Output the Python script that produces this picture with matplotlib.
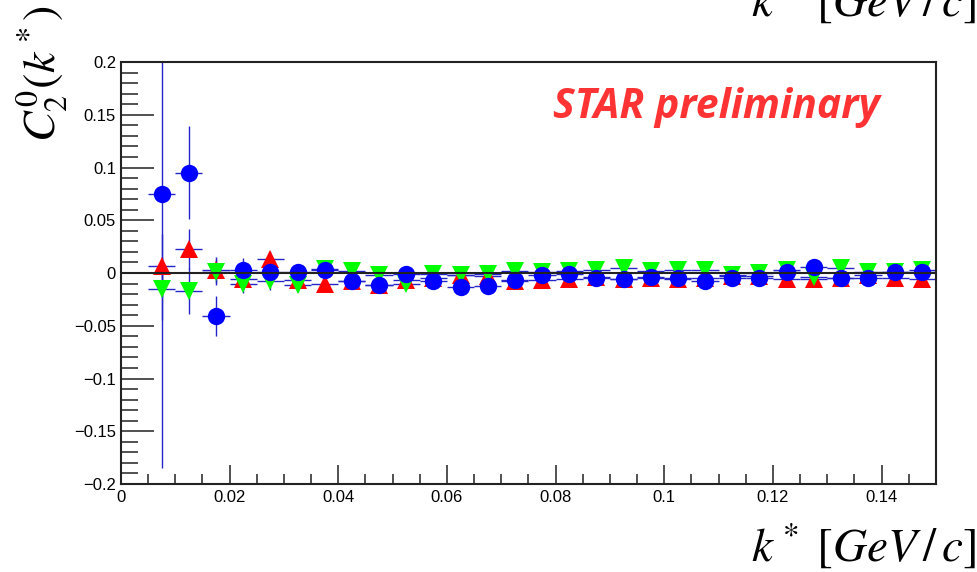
import numpy as np
import matplotlib
matplotlib.use("Agg")
import matplotlib.pyplot as plt
from matplotlib.ticker import MultipleLocator, FuncFormatter

plt.rcParams["font.family"] = ["Liberation Sans", "DejaVu Sans"]
plt.rcParams["mathtext.fontset"] = "stix"

# k* bin centres (bin width 0.005 GeV/c)
kstar = [0.0075, 0.0125, 0.0175, 0.0225, 0.0275, 0.0325, 0.0375, 0.0425, 0.0475, 0.0525,
         0.0575, 0.0625, 0.0675, 0.0725, 0.0775, 0.0825, 0.0875, 0.0925, 0.0975, 0.1025,
         0.1075, 0.1125, 0.1175, 0.1225, 0.1275, 0.1325, 0.1375, 0.1425, 0.1475]
kerr = 0.0025

c20_red = [0.007, 0.023, 0.003, -0.006, 0.013, -0.007, -0.010, -0.008, -0.011, -0.007,
           -0.005, -0.002, -0.003, -0.008, -0.007, -0.006, -0.004, -0.006, -0.005, -0.006,
           -0.005, -0.003, -0.003, -0.006, -0.006, -0.005, -0.002, -0.005, -0.006]
err_red = [0.030, 0.019, 0.012, 0.009, 0.008, 0.007, 0.006, 0.006, 0.005, 0.005,
           0.005, 0.005, 0.004, 0.004, 0.004, 0.004, 0.004, 0.004, 0.004, 0.004,
           0.004, 0.004, 0.004, 0.004, 0.004, 0.004, 0.004, 0.004, 0.004]

c20_green = [-0.015, -0.017, 0.001, -0.010, -0.008, -0.011, 0.004, 0.002, -0.002, -0.010,
             -0.001, -0.002, -0.001, 0.002, 0.001, 0.002, 0.003, 0.005, 0.002, 0.003,
             0.003, -0.002, 0.000, 0.003, -0.004, 0.005, 0.001, 0.001, 0.003]
err_green = [0.030, 0.022, 0.012, 0.009, 0.008, 0.007, 0.006, 0.006, 0.005, 0.005,
             0.005, 0.005, 0.004, 0.004, 0.004, 0.004, 0.004, 0.004, 0.004, 0.004,
             0.004, 0.004, 0.004, 0.004, 0.004, 0.004, 0.004, 0.004, 0.004]

c20_blue = [0.075, 0.095, -0.041, 0.003, 0.001, 0.001, 0.003, -0.008, -0.011, -0.001,
            -0.008, -0.013, -0.012, -0.007, -0.002, -0.001, -0.005, -0.006, -0.0035, -0.005,
            -0.008, -0.0045, -0.005, 0.001, 0.006, -0.005, -0.005, 0.001, 0.001]
err_blue = [0.260, 0.044, 0.019, 0.011, 0.009, 0.007, 0.006, 0.006, 0.005, 0.005,
            0.005, 0.005, 0.004, 0.004, 0.004, 0.004, 0.004, 0.004, 0.004, 0.004,
            0.004, 0.004, 0.004, 0.004, 0.004, 0.004, 0.004, 0.004, 0.004]

fig = plt.figure(figsize=(9.78, 5.72), dpi=100)
ax = fig.add_axes([0.1237, 0.1538, 0.957 - 0.1237, 0.8916 - 0.1538])

bar_col = "#2424c8"
for y, e in [(c20_red, err_red), (c20_green, err_green), (c20_blue, err_blue)]:
    ax.errorbar(kstar, y, xerr=kerr, yerr=e, fmt="none", ecolor=bar_col,
                elinewidth=1.0, capsize=0, zorder=2)

ax.plot(kstar, c20_red, "^", color="#ff0000", ms=13, mew=0, zorder=3)
ax.plot(kstar, c20_green, "v", color="#00ff00", ms=13, mew=0, zorder=4)
ax.plot(kstar, c20_blue, "o", color="#0000ff", ms=12.5, mew=0, zorder=5)

ax.axhline(0, color="#222222", lw=1.5, zorder=6)

ax.set_xlim(0, 0.15)
ax.set_ylim(-0.2, 0.2)

ax.xaxis.set_major_locator(MultipleLocator(0.02))
ax.xaxis.set_minor_locator(MultipleLocator(0.005))
ax.yaxis.set_major_locator(MultipleLocator(0.05))
ax.yaxis.set_minor_locator(MultipleLocator(0.01))


def root_fmt(v, pos):
    s = ("%.2f" % v).rstrip("0").rstrip(".")
    if s in ("-0", "0.0"):
        s = "0"
    return s.replace("-", "\u2212")


ax.xaxis.set_major_formatter(FuncFormatter(root_fmt))
ax.yaxis.set_major_formatter(FuncFormatter(root_fmt))

ax.tick_params(axis="y", which="major", direction="in", length=24, width=1.2,
               left=True, right=False, labelsize=12, pad=3.5, color="#333333")
ax.tick_params(axis="y", which="minor", direction="in", length=12, width=1.2,
               left=True, right=False, color="#333333")
ax.tick_params(axis="x", which="major", direction="in", length=14, width=1.2,
               bottom=True, top=False, labelsize=12, pad=4, color="#333333")
ax.tick_params(axis="x", which="minor", direction="in", length=7, width=1.2,
               bottom=True, top=False, color="#333333")
for sp in ax.spines.values():
    sp.set_linewidth(1.5)
    sp.set_color("#222222")

# axis titles
fig.text(0.044, 0.872, r"$C_2^0(k^*)$", rotation=90, fontsize=33,
         ha="center", va="center")
fig.text(0.998, 0.045, r"$k^*\ [GeV\,/\,c]$", fontsize=34, ha="right", va="center")
fig.text(0.998, 0.998, r"$k^*\ [GeV\,/\,c]$", fontsize=34, ha="right", va="center")

fig.text(0.5655, 0.7937, "STAR preliminary", color="#ff3333", fontsize=29.5,
         fontweight="bold", fontstyle="italic", family=["Open Sans", "DejaVu Sans"],
         ha="left", va="baseline")

fig.savefig("out.png", dpi=100)
